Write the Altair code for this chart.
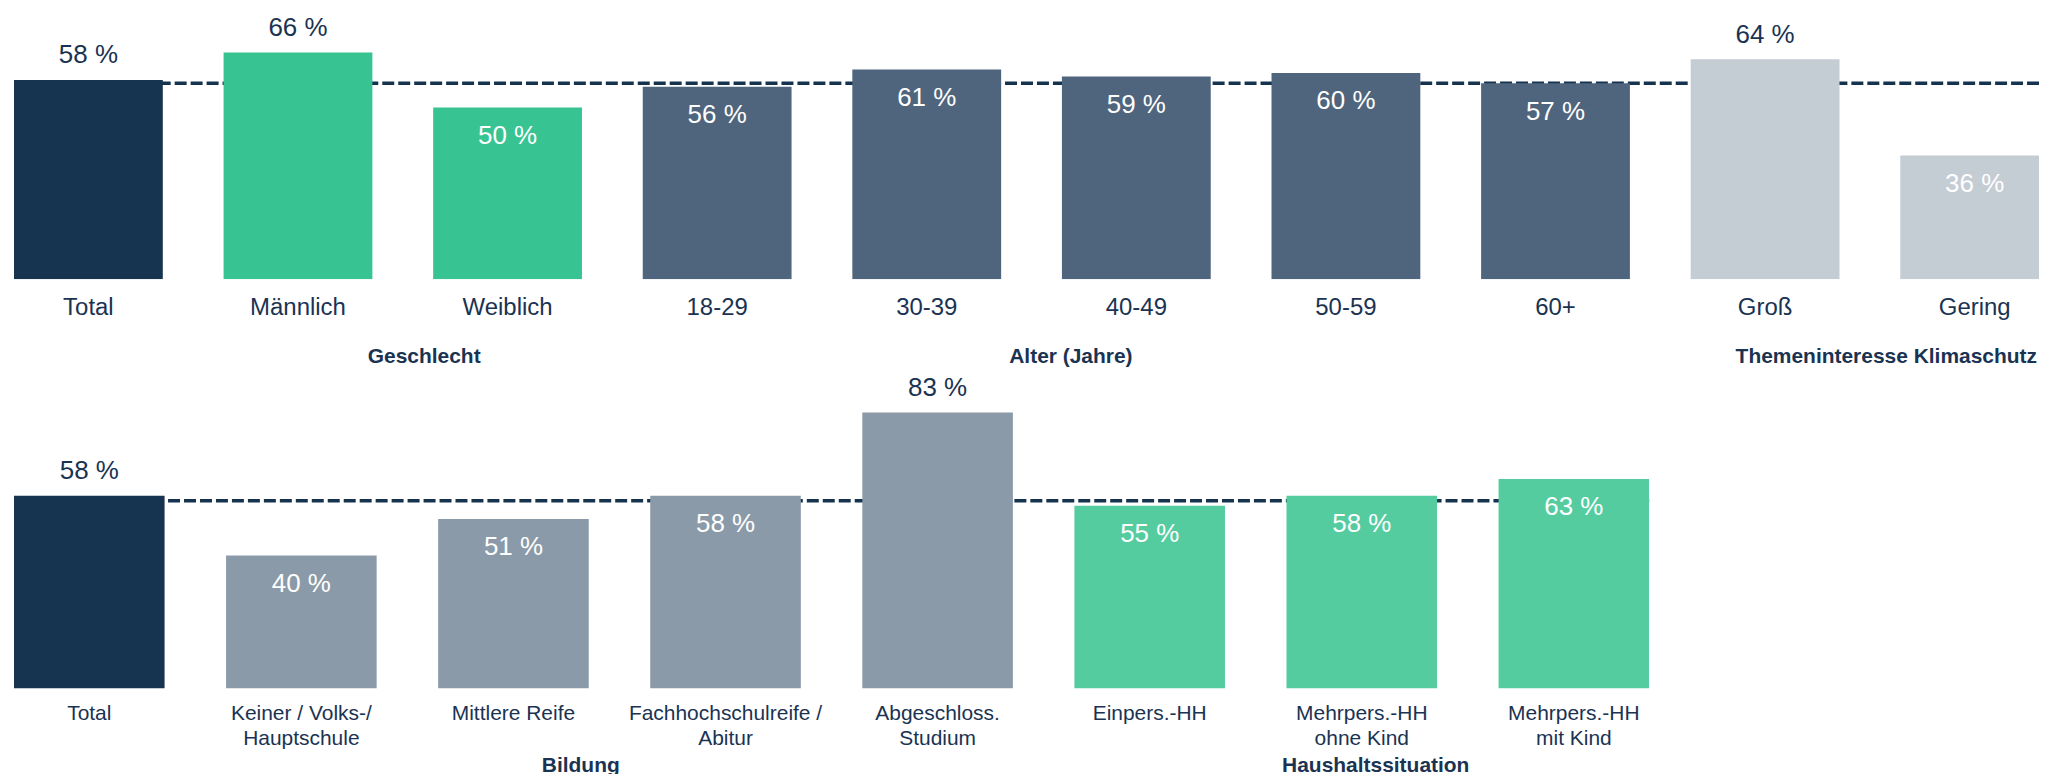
import altair as alt
import pandas as pd

# ---------------- data ----------------
top_categories = ["Total", "Männlich", "Weiblich", "18-29", "30-39", "40-49",
                  "50-59", "60+", "Groß", "Gering"]
top_values = [58, 66, 50, 56, 61, 59, 60, 57, 64, 36]
top_groups = ["Total", "Geschlecht", "Geschlecht", "Alter", "Alter", "Alter",
              "Alter", "Alter", "Thema", "Thema"]
top_labels_above = ["Total", "Männlich", "Groß"]
top_average = 57

bottom_categories = ["Total", "Keiner / Volks-/\nHauptschule", "Mittlere Reife",
                     "Fachhochschulreife /\nAbitur", "Abgeschloss.\nStudium",
                     "Einpers.-HH", "Mehrpers.-HH\nohne Kind", "Mehrpers.-HH\nmit Kind"]
bottom_values = [58, 40, 51, 58, 83, 55, 58, 63]
bottom_groups = ["Total", "Bildung", "Bildung", "Bildung", "Bildung",
                 "Haushalt", "Haushalt", "Haushalt"]
bottom_labels_above = ["Total", "Abgeschloss.\nStudium"]
bottom_average = 56.5

group_names = ["Total", "Geschlecht", "Alter", "Thema", "Bildung", "Haushalt"]
group_colors = ["#16334f", "#38c492", "#4f657d", "#c4ccd4", "#8b9aa8", "#54cca0"]

FONT = "Liberation Sans"
NAVY = "#1a3352"
PAD_INNER = 0.29


def panel(cats, vals, groups, above, avg, step, ymax, height,
          cat_size, cat_dy, line_h, group_specs, view_width=None):
    df = pd.DataFrame({"cat": cats, "value": vals, "group": groups})
    df["pos"] = ["above" if c in above else "inside" for c in cats]
    df["label"] = [f"{v} %" for v in vals]
    band_extent = step * (len(cats) - PAD_INNER)
    width = band_extent if view_width is None else view_width

    if view_width is None:
        xscale = alt.Scale(paddingInner=PAD_INNER, paddingOuter=0)
    else:
        xscale = alt.Scale(paddingInner=PAD_INNER, paddingOuter=0,
                           range=[0, band_extent])
    yscale = alt.Scale(domain=[0, ymax], nice=False, zero=True)
    x = alt.X("cat:N", sort=cats, axis=None, scale=xscale)
    y = alt.Y("value:Q", axis=None, scale=yscale)

    base = alt.Chart(df)

    rule = alt.Chart(pd.DataFrame({"value": [avg]})).mark_rule(
        color="#15324f", strokeWidth=3.5, strokeDash=[12, 4]
    ).encode(y=y)

    bars = base.mark_bar(clip=True).encode(
        x=x, y=y,
        color=alt.Color("group:N", legend=None,
                        scale=alt.Scale(domain=group_names, range=group_colors)),
    )

    lab_above = base.transform_filter(alt.datum.pos == "above").mark_text(
        font=FONT, fontSize=26, color=NAVY, baseline="alphabetic", dy=-16.5
    ).encode(x=x, y=y, text="label:N")

    lab_inside = base.transform_filter(alt.datum.pos == "inside").mark_text(
        font=FONT, fontSize=26, color="white", baseline="alphabetic", dy=36.5
    ).encode(x=x, y=y, text="label:N")

    cat_labels = base.mark_text(
        font=FONT, fontSize=cat_size, color=NAVY, baseline="alphabetic",
        dy=cat_dy, lineBreak="\n", lineHeight=line_h
    ).encode(x=x, y=alt.datum(0), text="cat:N")

    layers = [rule, bars, lab_above, lab_inside, cat_labels]
    for name, anchor, band, dx in group_specs:
        gdf = pd.DataFrame({"cat": [anchor], "glabel": [name]})
        layers.append(
            alt.Chart(gdf).mark_text(
                font=FONT, fontSize=21, fontWeight="bold", color=NAVY,
                baseline="alphabetic", dy=84, dx=dx
            ).encode(
                x=alt.X("cat:N", sort=cats, axis=None, scale=xscale, bandPosition=band),
                y=alt.datum(0),
                text="glabel:N",
            )
        )
    return alt.layer(*layers).properties(width=width, height=height)


top = panel(top_categories, top_values, top_groups, top_labels_above, top_average,
            step=210, ymax=78.7, height=271, cat_size=24, cat_dy=36.3, line_h=25,
            group_specs=[("Geschlecht", "Weiblich", 0, -9),
                         ("Alter (Jahre)", "40-49", 0, 9),
                         ("Themeninteresse Klimaschutz", "Gering", 0, -14)],
            view_width=2029)

bottom = panel(bottom_categories, bottom_values, bottom_groups, bottom_labels_above,
               bottom_average, step=212.5, ymax=96.1, height=320, cat_size=21,
               cat_dy=31.3, line_h=25,
               group_specs=[("Bildung", "Mittlere Reife", 1, -8),
                            ("Haushaltssituation", "Mehrpers.-HH\nohne Kind", 0.5, 14)])

chart = alt.vconcat(top, bottom, spacing=90, bounds="flush").properties(
    padding={"left": 4, "top": 0, "right": 0, "bottom": 0}
).configure_view(stroke=None)

chart.save("out.html", embed_options={"renderer": "svg", "actions": False})
